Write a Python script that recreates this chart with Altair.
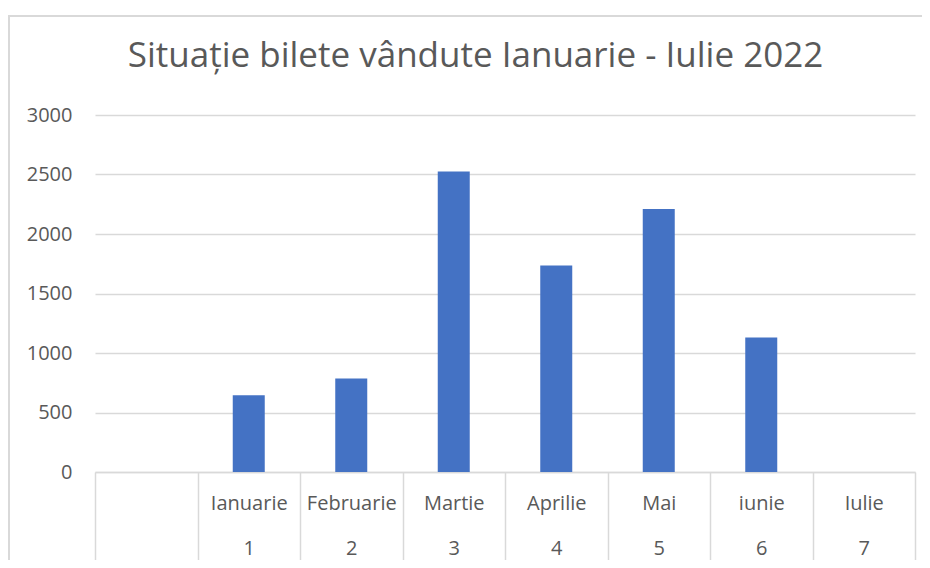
import altair as alt
import pandas as pd

months = ["Ianuarie", "Februarie", "Martie", "Aprilie", "Mai", "iunie", "Iulie"]
numbers = [1, 2, 3, 4, 5, 6, 7]
tickets = [645, 785, 2525, 1735, 2210, 1130, 0]
y_ticks = [0, 500, 1000, 1500, 2000, 2500, 3000]
title_text = "Situație bilete vândute Ianuarie - Iulie 2022"

blank = " "
cats = [f"{m}|{n}" for m, n in zip(months, numbers)]
df = pd.DataFrame({"cat": cats, "bilete": tickets})

FONT = "Open Sans"
GREY_TXT = "#595959"
GRID = "#d9d9d9"

frame = alt.Chart(pd.DataFrame({"a": [0]})).mark_rect(
    fill=None, stroke=GRID, strokeWidth=2
).encode(
    x=alt.value(-86), x2=alt.value(1000), y=alt.value(-99), y2=alt.value(700)
)

title = alt.Chart(pd.DataFrame({"t": [title_text]})).mark_text(
    font=FONT, fontSize=35, color=GREY_TXT, align="center", baseline="alphabetic"
).encode(
    text="t:N", x=alt.value(380.5), y=alt.value(-48)
)

bars = alt.Chart(df).mark_bar(color="#4472C4", width=32).encode(
    x=alt.X(
        "cat:N",
        sort=None,
        scale=alt.Scale(domain=[blank] + cats, paddingInner=0, paddingOuter=0),
        axis=alt.Axis(
            title=None,
            labelExpr="split(datum.label, '|')",
            labelLineHeight=45,
            labelBaseline="middle",
            labelAngle=0,
            labelFont=FONT,
            labelFontSize=20,
            labelColor=GREY_TXT,
            labelPadding=-65,
            tickBand="extent",
            tickSize=96,
            tickColor=GRID,
            tickWidth=1.5,
            domainColor=GRID,
            domainWidth=1.5,
            grid=False,
        ),
    ),
    y=alt.Y(
        "bilete:Q",
        scale=alt.Scale(domain=[0, 3000], nice=False),
        axis=alt.Axis(
            title=None,
            values=y_ticks,
            format="d",
            ticks=False,
            domain=False,
            labelFont=FONT,
            labelFontSize=20,
            labelColor=GREY_TXT,
            labelPadding=23,
            gridColor=GRID,
            gridWidth=1.5,
        ),
    ),
)

chart = alt.layer(frame, bars, title).properties(
    width=820,
    height=357,
    padding={"left": 87, "top": 107, "right": 7, "bottom": 88},
    autosize=alt.AutoSizeParams(type="none"),
).configure_view(stroke=None)

chart.save("out.html", embed_options={"renderer": "svg", "actions": False})
